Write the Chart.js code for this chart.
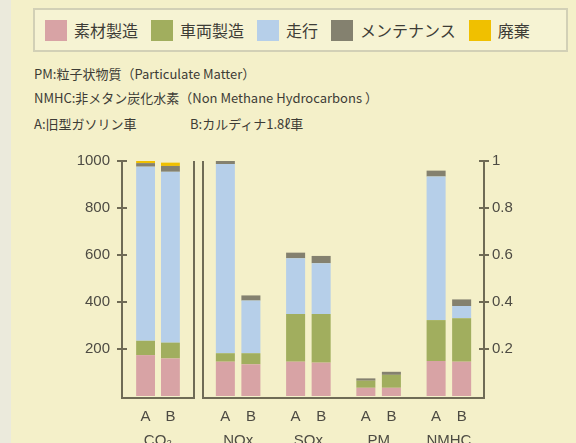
<!DOCTYPE html>
<html>
<head>
<meta charset="utf-8">
<script src="https://cdn.jsdelivr.net/npm/chart.js@4.4.1/dist/chart.umd.min.js"></script>
<style>
  body { margin: 0; }
  #page {
    position: relative; width: 576px; height: 443px; overflow: hidden;
    background: #f4f0c9; font-family: "Noto Sans CJK JP", sans-serif; color: #3d3c36;
  }
  #edge { position: absolute; left: 0; top: 0; width: 11px; height: 443px; background: #ebeadc; }
  #legend {
    position: absolute; left: 33px; top: 8px; width: 535px; height: 44px;
    box-sizing: border-box; border: 2px solid #d2d0b6; background: #f6f3d3;
    display: flex; align-items: center; padding-left: 10px;
  }
  .item { display: flex; align-items: center; margin-right: 13px; font-size: 16px; }
  .sw { width: 22px; height: 21px; margin-right: 7px; }
  .note { position: absolute; left: 34px; font-size: 13px; line-height: 18px; white-space: nowrap; }
  canvas { position: absolute; }
</style>
</head>
<body>
<div id="page">
  <div id="edge"></div>
  <div id="legend"></div>
  <div class="note" style="top:65px">PM:粒子状物質（Particulate Matter）</div>
  <div class="note" style="top:89px">NMHC:非メタン炭化水素（Non Methane Hydrocarbons ）</div>
  <div class="note" style="top:115px">A:旧型ガソリン車</div>
  <div class="note" style="top:115px; left:190px">B:カルディナ1.8ℓ車</div>
  <canvas id="co2Chart" style="left:0; top:140px; width:200px; height:303px"></canvas>
  <canvas id="gasChart" style="left:200px; top:140px; width:376px; height:303px"></canvas>
</div>
<script>
const segmentNames = ["素材製造", "車両製造", "走行", "メンテナンス", "廃棄"];
const segmentColors = ["#d8a3a5", "#a1ae5e", "#b6cfe9", "#84816f", "#f0c000"];

// CO2 (left axis, 0-1000) — values per segment, bottom to top
const co2Labels = ["CO₂"];
const co2CarA = [174, 61, 741, 15, 10];
const co2CarB = [160, 67, 727, 25, 14];
const co2Ticks = [0, 200, 400, 600, 800, 1000];

// other gases (right axis, 0-1) — one array per segment, across NOx, SOx, PM, NMHC
const gasLabels = ["NOx", "SOx", "PM", "NMHC"];
const materialA = [0.146, 0.146, 0.035, 0.149];
const vehicleA  = [0.036, 0.203, 0.030, 0.174];
const drivingA  = [0.805, 0.237, 0, 0.611];
const maintA    = [0.013, 0.024, 0.010, 0.025];
const disposalA = [0, 0, 0, 0];
const materialB = [0.135, 0.142, 0.035, 0.146];
const vehicleB  = [0.047, 0.207, 0.055, 0.185];
const drivingB  = [0.224, 0.216, 0, 0.052];
const maintB    = [0.022, 0.031, 0.013, 0.028];
const disposalB = [0, 0, 0, 0];
const gasTicks = [0, 0.2, 0.4, 0.6, 0.8, 1];

const axisColor = "#6f6b55";
const textColor = "#4d4b43";

// html legend
const legendEl = document.getElementById("legend");
segmentNames.forEach((name, i) => {
    const item = document.createElement("div");
    item.className = "item";
    item.innerHTML = `<span class="sw" style="background:${segmentColors[i]}"></span>${name}`;
    legendEl.appendChild(item);
});

// frame lines, crossing ticks and A/B labels
const framePlugin = {
    id: "frame",
    afterDraw(chart, args, opts) {
        const { ctx, chartArea: a, scales } = chart;
        const y = scales.y, x = scales.x;
        const axisX = opts.axis === "left" ? a.left : a.right;
        const sideX = opts.axis === "left" ? a.right : a.left;
        ctx.save();
        ctx.strokeStyle = axisColor;
        ctx.lineWidth = 2;
        ctx.beginPath();
        ctx.moveTo(a.left - 1, a.bottom + 2);
        ctx.lineTo(a.right + 1, a.bottom + 2);
        ctx.moveTo(axisX, a.top);
        ctx.lineTo(axisX, a.bottom + 2);
        ctx.moveTo(sideX, a.top);
        ctx.lineTo(sideX, a.bottom + 2);
        y.ticks.forEach(t => {
            if (t.value === 0) return;
            const py = y.getPixelForValue(t.value);
            ctx.moveTo(axisX - 5, py);
            ctx.lineTo(axisX + 5, py);
        });
        ctx.stroke();

        ctx.fillStyle = textColor;
        ctx.textAlign = "center";
        const metaA = chart.getDatasetMeta(0);
        const metaB = chart.getDatasetMeta(5);
        chart.data.labels.forEach((lab, i) => {
            ctx.font = "15px 'Liberation Sans', Arial, sans-serif";
            ctx.textBaseline = "middle";
            ctx.fillText("A", metaA.data[i].x, 277);
            ctx.fillText("B", metaB.data[i].x, 277);
            ctx.textBaseline = "top";
            ctx.fillText(lab, x.getPixelForTick(i), 293);
        });
        ctx.restore();
    }
};

function makeDatasets(carA, carB) {
    const sets = [];
    [carA, carB].forEach((car, c) => {
        car.forEach((values, s) => {
            sets.push({
                label: segmentNames[s],
                data: values,
                backgroundColor: segmentColors[s],
                stack: c === 0 ? "A" : "B",
                borderWidth: 0
            });
        });
    });
    return sets;
}

function makeOptions(axis, tickList, width, catPct, barPct, pad) {
    return {
        responsive: false,
        animation: false,
        datasets: { bar: { categoryPercentage: catPct, barPercentage: barPct } },
        layout: { padding: pad },
        plugins: { legend: { display: false }, tooltip: { enabled: false }, frame: { axis } },
        scales: {
            x: { display: false, stacked: true },
            y: {
                position: axis,
                stacked: true,
                min: tickList[0],
                max: tickList[tickList.length - 1],
                afterBuildTicks: s => { s.ticks = tickList.map(v => ({ value: v })); },
                afterFit: s => { s.width = width; },
                grid: { display: false },
                border: { display: false },
                ticks: {
                    color: textColor,
                    padding: axis === "left" ? 4 : 0,
                    font: { family: "'Liberation Sans', Arial, sans-serif", size: 15 },
                    callback: v => (v === 0 ? "" : String(v))
                }
            }
        }
    };
}

function setupCanvas(id, w, h) {
    const c = document.getElementById(id);
    c.width = w; c.height = h;
    return c.getContext("2d");
}

new Chart(setupCanvas("co2Chart", 200, 303), {
    type: "bar",
    data: {
        labels: co2Labels,
        datasets: makeDatasets(
            co2CarA.map(v => [v]),
            co2CarB.map(v => [v])
        )
    },
    options: makeOptions("left", co2Ticks, 122, 0.69, 0.76, { left: 0, right: 6, top: 21, bottom: 47 }),
    plugins: [framePlugin]
});

new Chart(setupCanvas("gasChart", 376, 303), {
    type: "bar",
    data: {
        labels: gasLabels,
        datasets: makeDatasets(
            [materialA, vehicleA, drivingA, maintA, disposalA],
            [materialB, vehicleB, drivingB, maintB, disposalB]
        )
    },
    options: makeOptions("right", gasTicks, 92, 0.727, 0.745, { left: 3, right: 0, top: 21, bottom: 47 }),
    plugins: [framePlugin]
});
</script>
</body>
</html>
